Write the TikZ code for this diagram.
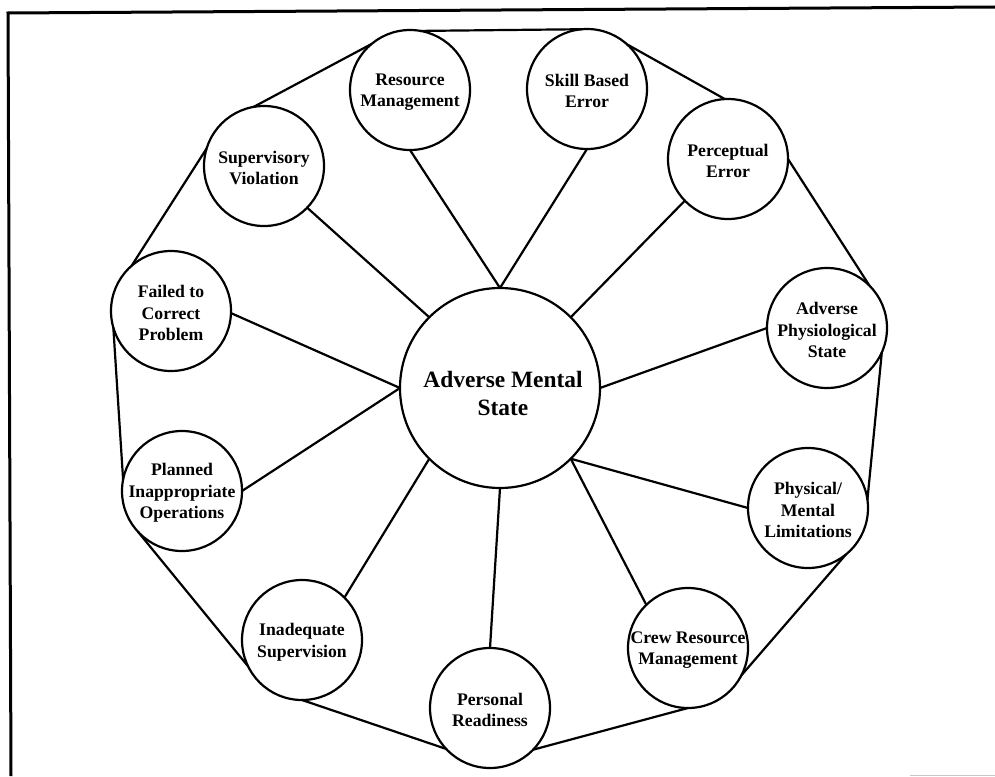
\documentclass[tikz,border=0pt]{standalone}
\usepackage{fontspec}
\setmainfont{Liberation Serif}
\begin{document}
\begin{tikzpicture}[x=1pt,y=-1pt,
  bub/.style={circle,draw,line width=2.2pt,minimum size=120pt,inner sep=0pt,outer sep=0pt},
  lbl/.style={font=\bfseries\fontsize{17.7}{21.5}\selectfont,align=center,inner sep=0pt,yshift=-2pt},
  mainlbl/.style={font=\bfseries\fontsize{23.4}{28}\selectfont,align=center,inner sep=0pt,yshift=-5pt,xshift=3pt},
  link/.style={line width=2.2pt,line join=round,line cap=round},
  frame/.style={line width=3pt}]
\useasboundingbox (0,0) rectangle (995,776);
% frame
\draw[frame] (11,776) -- (8,13) -- (995,7);
\draw[gray!45,line width=1pt] (910,775) -- (995,775);
% centre
\node[bub,minimum size=200pt,label={[mainlbl]center:Adverse Mental\\State}] (main) at (500,388) {};
% outer circles
\node[bub,label={[lbl]center:Resource\\Management}] (rm) at (410,90) {};
\node[bub,label={[lbl]center:Skill Based\\Error}] (sbe) at (587,89) {};
\node[bub,label={[lbl]center:Perceptual\\Error}] (pe) at (728,159) {};
\node[bub,label={[lbl]center:Adverse\\Physiological\\State}] (aps) at (827,328) {};
\node[bub,label={[lbl]center:Physical/\\Mental\\Limitations}] (pml) at (808,508) {};
\node[bub,label={[lbl]center:Crew Resource\\Management}] (crm) at (688,648) {};
\node[bub,label={[lbl]center:Personal\\Readiness}] (pr) at (490,708) {};
\node[bub,label={[lbl]center:Inadequate\\Supervision}] (is) at (302,640) {};
\node[bub,label={[lbl]center:Planned\\Inappropriate\\Operations}] (pio) at (182,491) {};
\node[bub,label={[lbl]center:Failed to\\Correct\\Problem}] (fcp) at (171,311) {};
\node[bub,label={[lbl]center:Supervisory\\Violation}] (sv) at (264,166) {};
% spokes
\draw[link] (rm.270) -- (main.90);
\draw[link] (sbe.270) -- (main.90);
\draw[link] (pe.224) -- (main.45);
\draw[link] (aps.180) -- (main.0);
\draw[link] (pml.180) -- (main.315);
\draw[link] (crm.134) -- (main.315);
\draw[link] (pr.90) -- (main.270);
\draw[link] (is.45) -- (main.225);
\draw[link] (pio.0) -- (main.180);
\draw[link] (fcp.358) -- (main.180);
\draw[link] (sv.316) -- (main.135);
% outer ring
\draw[link] (rm.80) -- (sbe.95);
\draw[link] (sbe.48) -- (pe.93);
\draw[link] (pe.0) -- (aps.45);
\draw[link] (aps.336) -- (pml.8);
\draw[link] (pml.309) -- (crm.333);
\draw[link] (crm.270) -- (pr.316);
\draw[link] (pr.223) -- (is.270);
\draw[link] (is.206) -- (pio.223);
\draw[link] (pio.169) -- (fcp.196);
\draw[link] (fcp.131) -- (sv.163);
\draw[link] (sv.100) -- (rm.130);
\end{tikzpicture}
\end{document}
